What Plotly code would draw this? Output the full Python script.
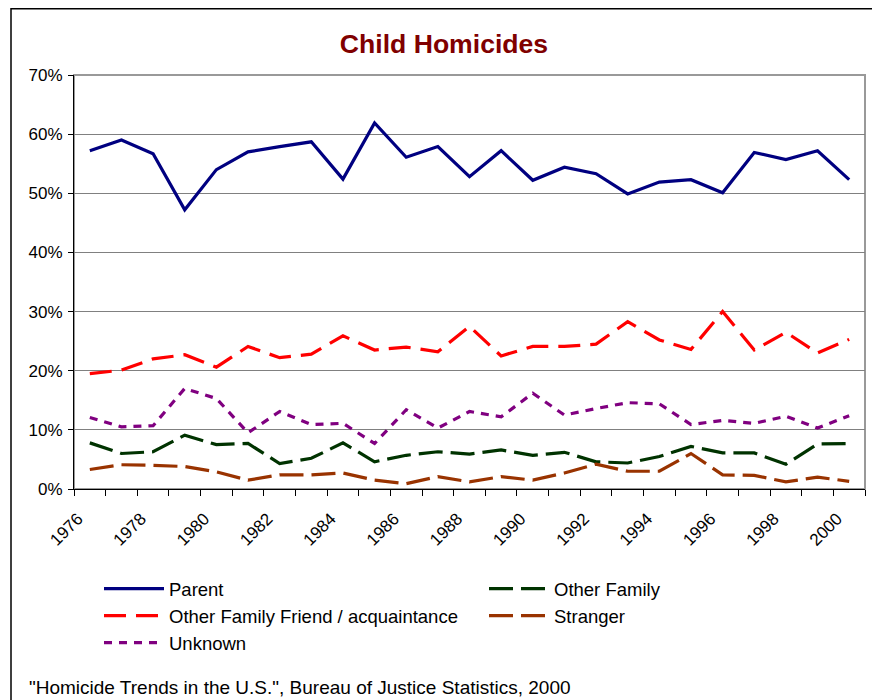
import plotly.graph_objects as go

years = list(range(1976, 2001))
tick_years = list(range(1976, 2001, 2))
tick_labels = [str(y) for y in tick_years]

parent = [57.2, 59.0, 56.7, 47.2, 54.0, 57.0, 57.9, 58.7, 52.4, 61.9, 56.1, 57.9,
          52.8, 57.2, 52.2, 54.4, 53.3, 49.9, 51.9, 52.3, 50.1, 56.9, 55.7, 57.2, 52.3]
friend = [19.5, 20.1, 22.0, 22.7, 20.6, 24.1, 22.2, 22.8, 25.9, 23.5, 24.0, 23.2,
          27.5, 22.5, 24.1, 24.1, 24.5, 28.3, 25.2, 23.6, 30.0, 23.5, 26.5, 23.0, 25.3]
unknown = [12.1, 10.5, 10.7, 17.0, 15.3, 9.5, 13.1, 10.9, 11.1, 7.7, 13.4, 10.3,
           13.1, 12.2, 16.2, 12.5, 13.6, 14.6, 14.4, 10.9, 11.6, 11.1, 12.3, 10.3, 12.4]
other_family = [7.8, 6.0, 6.3, 9.1, 7.5, 7.7, 4.3, 5.2, 7.8, 4.6, 5.7, 6.3,
                5.9, 6.6, 5.7, 6.2, 4.6, 4.4, 5.5, 7.2, 6.1, 6.1, 4.2, 7.6, 7.7]
stranger = [3.3, 4.1, 4.0, 3.8, 2.9, 1.5, 2.4, 2.4, 2.7, 1.5, 0.9, 2.1,
            1.2, 2.1, 1.5, 2.7, 4.2, 3.0, 3.0, 6.0, 2.4, 2.3, 1.2, 2.0, 1.3]

names = ["Parent", "Other Family", "Other Family Friend / acquaintance", "Stranger", "Unknown"]
series = [parent, other_family, friend, stranger, unknown]
colors = ["#000080", "#003300", "#FF0000", "#993300", "#800080"]
dashes = ["solid", "24px,8px", "22px,10px", "24px,8px", "8px,7px"]

FONT = "Liberation Sans, Arial, sans-serif"

fig = go.Figure()
for n, s, c, d in zip(names, series, colors, dashes):
    fig.add_trace(go.Scatter(
        x=years, y=[v / 100 for v in s], name=n, mode="lines",
        line=dict(color=c, width=3.2, dash=d),
    ))

W, H = 880, 700
L, R, T, B = 66, 23, 67, 219
pw, ph = W - L - R, H - T - B

def px_x(x):
    return (x - L) / pw

def px_y(y):
    return (H - B - y) / ph

fig.update_layout(
    width=W, height=H,
    margin=dict(l=L, r=R, t=T, b=B),
    paper_bgcolor="white", plot_bgcolor="white",
    font=dict(family=FONT, color="black", size=17),
    title=dict(text="<b>Child Homicides</b>", x=436 / W, xanchor="center",
               xref="container", y=1 - 36 / H, yanchor="middle",
               font=dict(size=26.6, color="#800000", family=FONT)),
    showlegend=True,
    legend=dict(orientation="h", x=px_x(91), xanchor="left", y=px_y(562), yanchor="top",
                font=dict(size=18.5, family=FONT, color="black"),
                itemwidth=60, entrywidth=310, entrywidthmode="pixels",
                traceorder="normal", bgcolor="rgba(0,0,0,0)"),
    xaxis=dict(
        range=[1975.5, 2000.5], tickmode="array", tickvals=tick_years, ticktext=tick_labels,
        tickangle=-45, ticks="", showgrid=False, zeroline=False,
        showline=True, linecolor="black", linewidth=1.2,
        tickfont=dict(size=17, family=FONT),
        ticklabelstandoff=12, ticklabelshift=-12,
        minor=dict(tickmode="linear", tick0=1975.5, dtick=1, ticks="outside",
                   ticklen=6, tickwidth=1.2, tickcolor="black", showgrid=False),
    ),
    yaxis=dict(
        range=[0, 0.70], tickmode="linear", tick0=0, dtick=0.1, tickformat=".0%",
        ticks="outside", ticklen=5, tickwidth=1.2, tickcolor="black",
        showgrid=True, gridcolor="#808080", gridwidth=1.2, zeroline=False,
        showline=True, linecolor="black", linewidth=1.2,
        tickfont=dict(size=17, family=FONT), ticklabelstandoff=2,
    ),
    shapes=[
        dict(type="rect", xref="paper", yref="paper", x0=0, x1=1, y0=0, y1=1,
             line=dict(color="#999999", width=2), layer="below"),
        dict(type="rect", xref="paper", yref="paper",
             x0=px_x(3), x1=px_x(868), y0=px_y(730), y1=px_y(0.8),
             line=dict(color="black", width=1.5), layer="below"),
    ],
    annotations=[
        dict(text='"Homicide Trends in the U.S.", Bureau of Justice Statistics, 2000',
             xref="paper", yref="paper", x=px_x(19), y=px_y(679),
             xanchor="left", yanchor="middle", showarrow=False,
             font=dict(size=19, family=FONT, color="black")),
    ],
)

fig.write_html("out.html")
